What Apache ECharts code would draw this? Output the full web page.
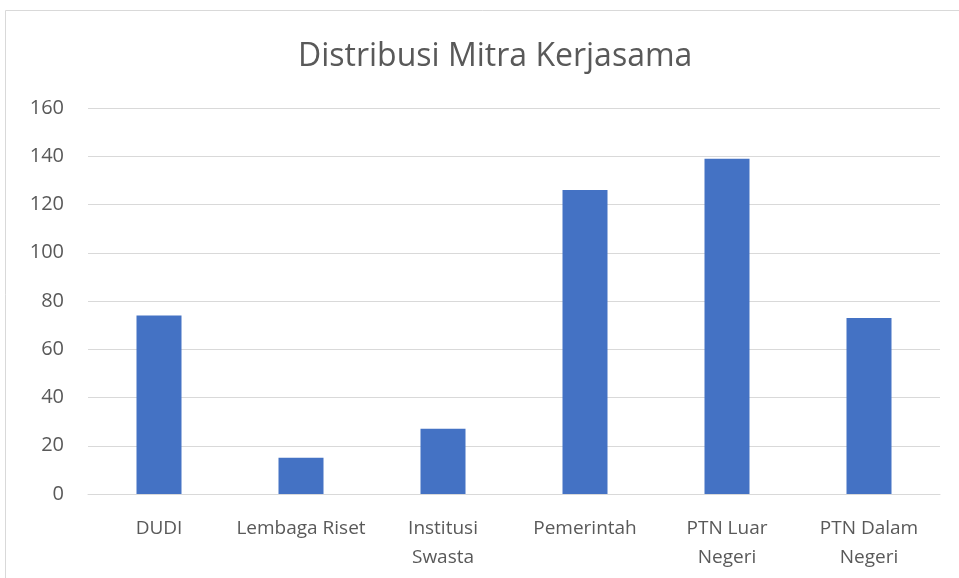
<!DOCTYPE html>
<html>
<head>
<meta charset="utf-8">
<script src="https://cdn.jsdelivr.net/npm/echarts@6/dist/echarts.min.js"></script>
<style>
  html, body { margin: 0; padding: 0; background: #fff; }
  #main { width: 959px; height: 578px; }
</style>
</head>
<body>
<div id="main"></div>
<script>
// data
var categories = ['DUDI', 'Lembaga Riset', 'Institusi\nSwasta', 'Pemerintah', 'PTN Luar\nNegeri', 'PTN Dalam\nNegeri'];
var values = [74, 15, 27, 126, 139, 73];
var yTicks = [0, 20, 40, 60, 80, 100, 120, 140, 160];

var myChart = echarts.init(document.getElementById('main'));

var option = {
  backgroundColor: '#ffffff',
  textStyle: { fontFamily: 'Open Sans' },
  title: {
    text: 'Distribusi Mitra Kerjasama',
    left: 293,
    top: 36,
    textStyle: {
      color: '#595959',
      fontSize: 32,
      fontWeight: 'normal',
      fontFamily: 'Open Sans'
    }
  },
  graphic: [{
    type: 'rect',
    shape: { x: 5.5, y: 10.5, width: 960, height: 600 },
    style: { fill: 'none', stroke: '#d9d9d9', lineWidth: 1 },
    silent: true
  }],
  grid: { left: 88, right: 19, top: 108, bottom: 84 },
  xAxis: {
    type: 'category',
    data: categories,
    axisTick: { show: false },
    axisLine: { lineStyle: { color: '#d9d9d9', width: 1 } },
    axisLabel: {
      color: '#595959',
      fontSize: 19,
      margin: 20,
      lineHeight: 29,
      interval: 0
    }
  },
  yAxis: {
    type: 'value',
    min: yTicks[0],
    max: yTicks[yTicks.length - 1],
    interval: 20,
    axisLine: { show: false },
    axisTick: { show: false },
    splitLine: { lineStyle: { color: '#d9d9d9', width: 1 } },
    axisLabel: {
      color: '#595959',
      fontSize: 20,
      margin: 24
    }
  },
  series: [{
    type: 'bar',
    data: values,
    barWidth: 45,
    itemStyle: { color: '#4472c4' }
  }]
};

myChart.setOption(option);
</script>
</body>
</html>
